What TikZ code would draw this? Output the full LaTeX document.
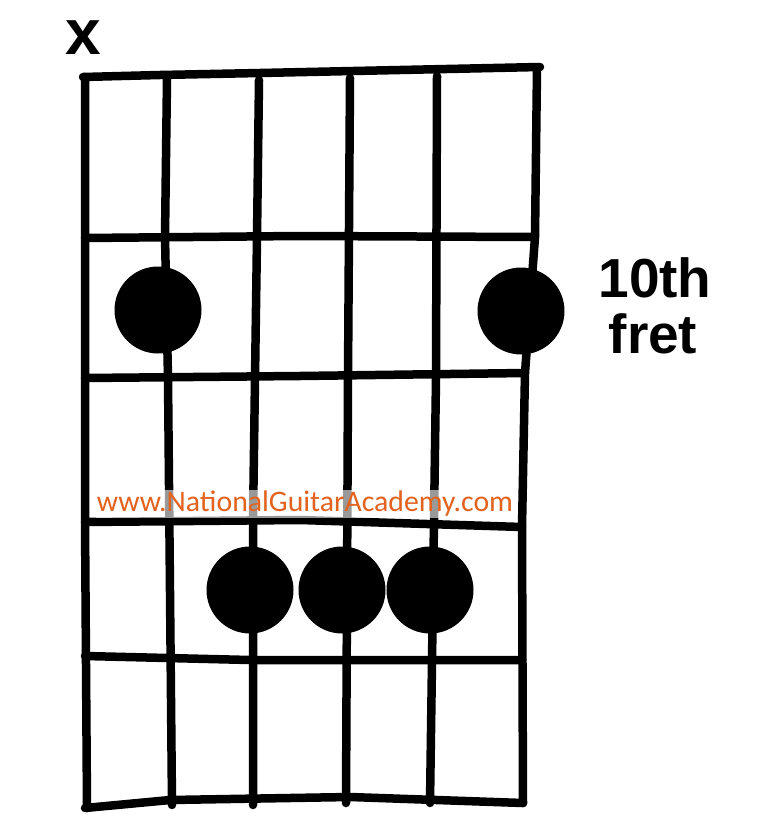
\documentclass[tikz,border=0pt]{standalone}
\usepackage{fontspec}
\setmainfont{Liberation Sans}
\newfontfamily\wmfont{Carlito}
\definecolor{wmorange}{RGB}{226,98,30}
\begin{document}
\begin{tikzpicture}[x=1pt,y=-1pt,
  gridline/.style={line width=8.5pt,line cap=round,line join=round},
  fingerdot/.style={circle,fill=black,minimum size=87pt,inner sep=0pt},
  labeltext/.style={font=\bfseries\fontsize{55}{60}\selectfont,anchor=base,inner sep=0pt}]
\useasboundingbox[fill=white] (0,0) rectangle (757,835);
% strings
\draw[gridline] (85,77) -- (85,520) -- (87,808);
\draw[gridline] (167,78) -- (165,237) -- (168,378) -- (172,805);
\draw[gridline] (259,80) -- (257,237) -- (253,520) -- (253,805);
\draw[gridline] (350,78) -- (348,378) -- (346,803);
\draw[gridline] (437,76) -- (436,378) -- (430,803);
\draw[gridline] (537,68) -- (535,237) -- (525,373) -- (522,527) -- (523,803);
% frets
\draw[gridline] (83,77) -- (160,75) -- (260,73) -- (540,67);
\draw[gridline] (85,238) -- (300,236) -- (535,237);
\draw[gridline] (85,378) -- (300,376) -- (525,373);
\draw[gridline] (85,522) -- (300,520) -- (522,527);
\draw[gridline] (85,656) -- (250,660) -- (522,660);
\draw[gridline] (85,808) -- (170,800) -- (350,797) -- (523,803);
% watermark
\node[fill=white,fill opacity=0.6,text opacity=1,inner sep=1pt,text=wmorange] (wm) at (305,504)
  {\resizebox{416pt}{!}{\wmfont www.NationalGuitarAcademy.com}};
% dots
\node[fingerdot] (d1) at (158,310) {};
\node[fingerdot] (d6) at (521,311) {};
\node[fingerdot] (d3) at (250,590) {};
\node[fingerdot] (d4) at (342,590) {};
\node[fingerdot] (d5) at (430,590) {};
% labels
\node[font=\bfseries\fontsize{64}{70}\selectfont,inner sep=0pt] (mute) at (83,38) {x};
\node[labeltext] (fretnum) at (655,297) {10th};
\node[labeltext] (fretword) at (653,353) {fret};
\end{tikzpicture}
\end{document}
